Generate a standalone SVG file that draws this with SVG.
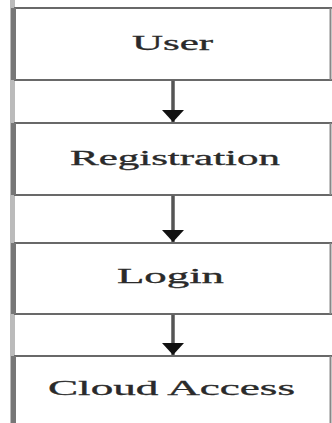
<svg xmlns="http://www.w3.org/2000/svg" width="332" height="423" viewBox="0 0 332 423">
<style>
.box{fill:#fff;stroke:#444;stroke-width:1.6}
.edge{stroke:#888;stroke-width:2}
.lbar{fill:#777}
.lbl{font-family:"Liberation Serif","Times New Roman",serif;font-size:20px;fill:#2a2a2a;text-anchor:middle;stroke:#2a2a2a;stroke-width:0.3}
.conn{stroke:#555;stroke-width:3.5}
</style>
<defs>
<marker id="ah" viewBox="0 0 12 22" refX="12" refY="11" markerWidth="12" markerHeight="22" markerUnits="userSpaceOnUse" orient="auto">
<path d="M0,0 L12,11 L0,22 Z" fill="#111"/>
</marker>
</defs>
<rect x="0" y="0" width="332" height="423" fill="#fff"/>
<rect x="10" y="0" width="5" height="423" fill="#bbb"/>
<g id="user">
<rect class="box" x="15" y="8" width="330" height="72"/>
<line class="edge" x1="330.5" y1="8" x2="330.5" y2="80"/>
<rect class="lbar" x="11" y="8" width="5" height="72"/>
<text class="lbl" x="172.5" y="50" textLength="81" lengthAdjust="spacingAndGlyphs">User</text>
</g>
<g id="registration">
<rect class="box" x="15" y="123" width="330" height="72"/>
<line class="edge" x1="330.5" y1="123" x2="330.5" y2="195"/>
<rect class="lbar" x="11" y="123" width="5" height="72"/>
<text class="lbl" x="175" y="164.5" textLength="210" lengthAdjust="spacingAndGlyphs">Registration</text>
</g>
<g id="login">
<rect class="box" x="15" y="243" width="330" height="71"/>
<line class="edge" x1="330.5" y1="243" x2="330.5" y2="314"/>
<rect class="lbar" x="11" y="243" width="5" height="71"/>
<text class="lbl" x="170.5" y="283" textLength="107" lengthAdjust="spacingAndGlyphs">Login</text>
</g>
<g id="cloud-access">
<rect class="box" x="15" y="356" width="330" height="80"/>
<line class="edge" x1="330.5" y1="356" x2="330.5" y2="423"/>
<rect class="lbar" x="11" y="356" width="5" height="67"/>
<text class="lbl" x="171.5" y="395" textLength="247" lengthAdjust="spacingAndGlyphs">Cloud Access</text>
</g>
<g id="connectors">
<line class="conn" x1="173" y1="80.8" x2="173" y2="122" marker-end="url(#ah)"/>
<line class="conn" x1="173" y1="195.8" x2="173" y2="242" marker-end="url(#ah)"/>
<line class="conn" x1="173" y1="314.8" x2="173" y2="355" marker-end="url(#ah)"/>
</g>
</svg>
